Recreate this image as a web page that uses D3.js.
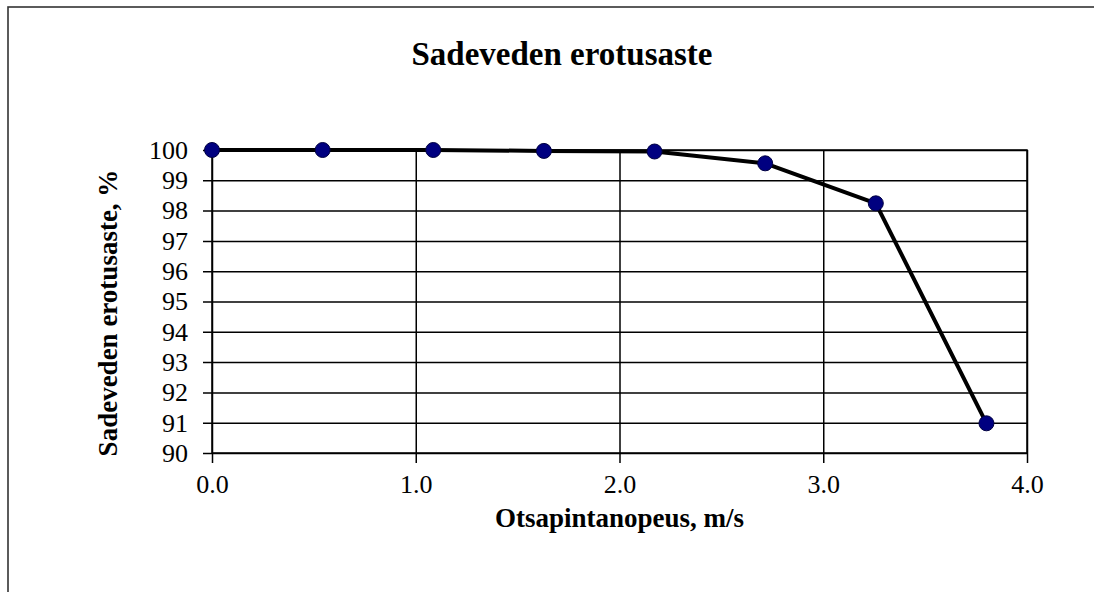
<!DOCTYPE html>
<html>
<head>
<meta charset="utf-8">
<script src="https://cdn.jsdelivr.net/npm/d3@7"></script>
<style>
  html, body { margin: 0; padding: 0; background: #fff; }
  svg { display: block; }
  text { font-family: "Liberation Serif", "Times New Roman", serif; fill: #000; }
</style>
</head>
<body>
<svg id="chart" width="1094" height="592"></svg>
<script>
const title = "Sadeveden erotusaste";
const xTitle = "Otsapintanopeus, m/s";
const yTitle = "Sadeveden erotusaste, %";
const speed = [0, 0.543, 1.086, 1.629, 2.172, 2.715, 3.258, 3.801];
const separation = [100, 100, 100, 99.97, 99.95, 99.56, 98.24, 90.98];
const xTicks = [0, 1, 2, 3, 4];
const yTicks = [90, 91, 92, 93, 94, 95, 96, 97, 98, 99, 100];

const svg = d3.select("#chart");
const pLeft = 212, pRight = 1027, pTop = 150, pBottom = 453;
const W = pRight - pLeft, H = pBottom - pTop;

// outer frame
svg.append("rect").attr("x", 8).attr("y", 7).attr("width", 1120).attr("height", 620)
  .attr("fill", "#fff").attr("stroke", "#333").attr("stroke-width", 1.6);

const x = d3.scaleLinear().domain([0, 4]).range([pLeft, pRight]);
const y = d3.scaleLinear().domain([90, 100]).range([pBottom, pTop]);

// y axis with gridlines
const gy = svg.append("g").attr("transform", `translate(${pLeft},0)`)
  .call(d3.axisLeft(y).tickValues(yTicks).tickSize(-W).tickSizeOuter(0).tickPadding(24));
gy.select(".domain").remove();
gy.selectAll(".tick line").attr("x1", -9).attr("stroke", "#000").attr("stroke-width", 1.5);
gy.selectAll(".tick text").attr("font-size", 26).attr("font-family", "Liberation Serif").attr("fill", "#000");

// x axis with gridlines
const gx = svg.append("g").attr("transform", `translate(0,${pBottom})`)
  .call(d3.axisBottom(x).tickValues(xTicks).tickFormat(d3.format(".1f")).tickSize(-H).tickSizeOuter(0).tickPadding(22));
gx.select(".domain").remove();
gx.selectAll(".tick line").attr("y1", 10).attr("stroke", "#000").attr("stroke-width", 1.5);
gx.selectAll(".tick text").attr("font-size", 26).attr("font-family", "Liberation Serif").attr("fill", "#000");

// plot border
svg.append("rect").attr("x", pLeft).attr("y", pTop).attr("width", W).attr("height", H)
  .attr("fill", "none").attr("stroke", "#000").attr("stroke-width", 1.5);

// data line
const pts = speed.map((s, i) => [s, separation[i]]);
svg.append("path").datum(pts)
  .attr("d", d3.line().x(d => x(d[0])).y(d => y(d[1])))
  .attr("fill", "none").attr("stroke", "#000").attr("stroke-width", 4).attr("stroke-linejoin", "round");

svg.append("g").selectAll("circle").data(pts).join("circle")
  .attr("cx", d => x(d[0])).attr("cy", d => y(d[1])).attr("r", 7.5)
  .attr("fill", "#000080").attr("stroke", "#000040").attr("stroke-width", 1);

// titles
svg.append("text").attr("x", 562).attr("y", 65).attr("text-anchor", "middle")
  .attr("font-size", 33).attr("font-weight", "bold").text(title);
svg.append("text").attr("x", (pLeft + pRight) / 2).attr("y", 527).attr("text-anchor", "middle")
  .attr("font-size", 27).attr("font-weight", "bold").text(xTitle);
svg.append("text").attr("transform", `translate(117,313) rotate(-90)`).attr("text-anchor", "middle")
  .attr("font-size", 27).attr("font-weight", "bold").text(yTitle);
</script>
</body>
</html>
